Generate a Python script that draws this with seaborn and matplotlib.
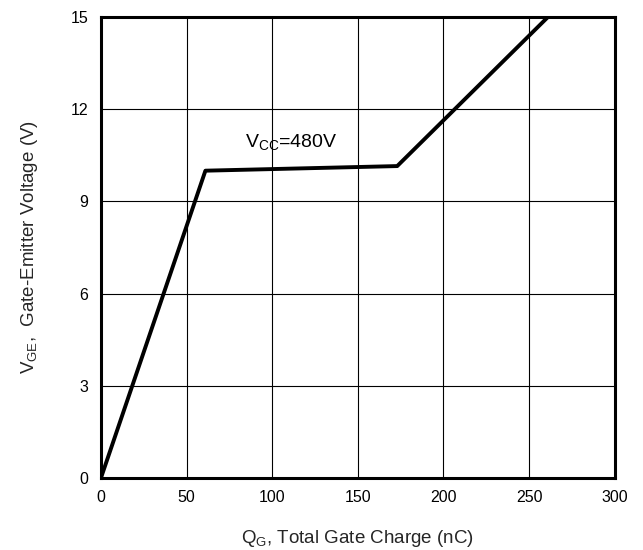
import matplotlib
matplotlib.use("Agg")
import matplotlib.pyplot as plt
import seaborn as sns
import pandas as pd

# Gate charge curve
qg_nc = [0, 61, 173, 261]
vge_v = [0, 10.0, 10.15, 15.0]
x_ticks = [0, 50, 100, 150, 200, 250, 300]
y_ticks = [0, 3, 6, 9, 12, 15]
curve_label = r"V$_{\mathrm{CC}}$=480V"

sns.set_theme(style="white")
plt.rcParams["font.family"] = ["Liberation Sans", "DejaVu Sans"]
plt.rcParams["mathtext.fontset"] = "custom"
plt.rcParams["mathtext.rm"] = "Liberation Sans"
plt.rcParams["mathtext.it"] = "Liberation Sans"

df = pd.DataFrame({"qg": qg_nc, "vge": vge_v})

fig = plt.figure(figsize=(6.43, 5.5), dpi=100)
ax = fig.add_axes([0.157, 0.131, 0.799, 0.838])

sns.lineplot(data=df, x="qg", y="vge", ax=ax, color="black", linewidth=2.8,
             sort=False, estimator=None)

ax.set_xlim(0, 300)
ax.set_ylim(0, 15)
ax.set_xticks(x_ticks)
ax.set_yticks(y_ticks)
ax.grid(True, color="black", linewidth=0.8)
ax.tick_params(length=0, labelsize=11.5, colors="black", pad=9)
for s in ax.spines.values():
    s.set_linewidth(2.2)
    s.set_color("black")

ax.text(84, 10.77, curve_label, fontsize=14, color="black")

ax.set_xlabel(r"Q$_{\mathrm{G}}$, Total Gate Charge (nC)", fontsize=13.5, labelpad=16)
ax.set_ylabel(r"V$_{\mathrm{GE}}$,  Gate-Emitter Voltage (V)", fontsize=13.5, labelpad=22)

fig.savefig("out.png", dpi=100)
